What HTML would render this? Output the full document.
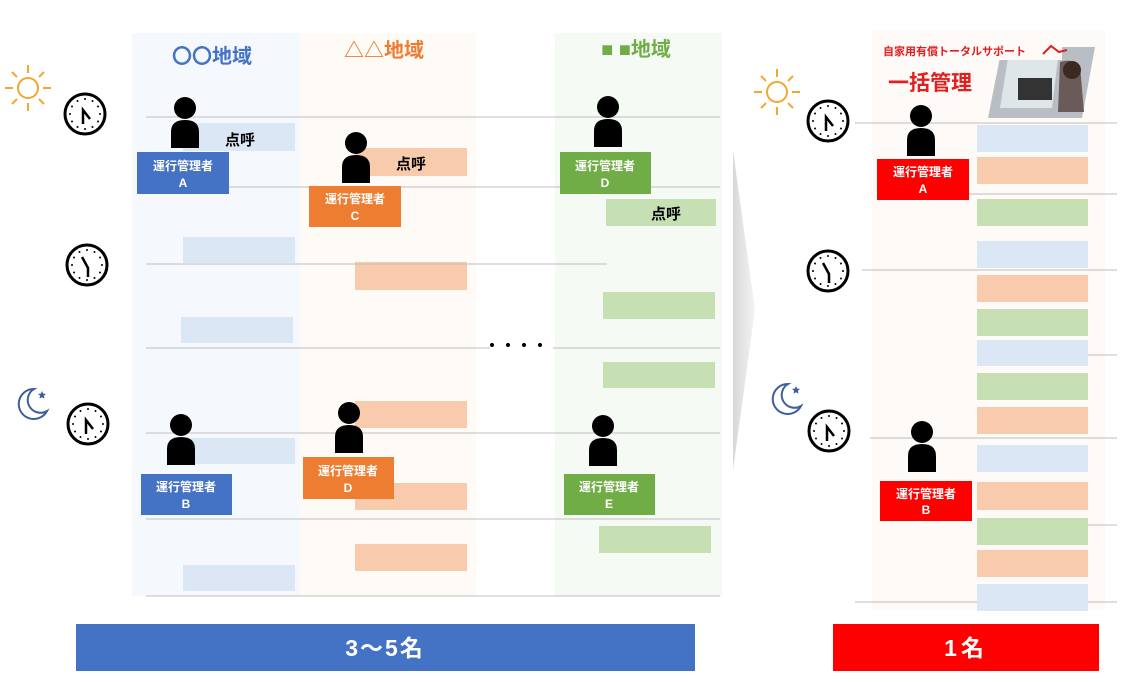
<!DOCTYPE html>
<html><head><meta charset="utf-8"><style>
html,body{margin:0;padding:0;background:#fff;}
svg{display:block;font-family:"Liberation Sans","Noto Sans CJK JP",sans-serif;}
</style></head><body>
<svg width="1133" height="686" viewBox="0 0 1133 686" xmlns="http://www.w3.org/2000/svg">
<defs>
<g id="clk"><circle r="20" fill="#fff" stroke="#000" stroke-width="3"/>
<g fill="#000"><circle cx="0" cy="-15" r="1"/><circle cx="7.5" cy="-13" r="1"/><circle cx="13" cy="-7.5" r="1"/><circle cx="15" cy="0" r="1"/><circle cx="13" cy="7.5" r="1"/><circle cx="7.5" cy="13" r="1"/><circle cx="0" cy="15" r="1"/><circle cx="-7.5" cy="13" r="1"/><circle cx="-13" cy="7.5" r="1"/><circle cx="-15" cy="0" r="1"/><circle cx="-13" cy="-7.5" r="1"/><circle cx="-7.5" cy="-13" r="1"/></g></g>
<g id="h1"><use href="#clk"/><path d="M-2 10 L-2 -4 L5 5" fill="none" stroke="#000" stroke-width="2.5"/></g>
<g id="h2"><use href="#clk"/><path d="M-5 -8 L1 3 L1 12" fill="none" stroke="#000" stroke-width="2.5"/></g>
<g id="sun" stroke="#f0a830" stroke-width="2" fill="none"><circle r="10"/><path d="M0 -23V-15M0 15V23M-23 0H-15M15 0H23M-16 -16L-11 -11M11 11L16 16M16 -16L11 -11M-11 11L-16 16"/></g>
<g id="moon"><path d="M4 -15 A15 15 0 1 0 17 7 A11 11 0 1 1 4 -15Z" fill="none" stroke="#3e5f9a" stroke-width="2"/><path d="M12 -13 l1.2 2.6 2.8 .3 -2.1 1.9 .6 2.8 -2.5 -1.4 -2.5 1.4 .6 -2.8 -2.1 -1.9 2.8 -.3Z" fill="#3e5f9a"/></g>
<g id="per"><circle cx="0" cy="-12" r="11" fill="#000"/><path d="M-14 28 V12 Q-14 0 0 0 Q14 0 14 12 V28Z" fill="#000"/></g>
<linearGradient id="ch" x1="0" x2="1"><stop offset="0" stop-color="#d8d8d8"/><stop offset="1" stop-color="#f4f4f4"/></linearGradient>
</defs>
<rect x="132" y="33" width="168" height="563" fill="#f5f9fd"/>
<rect x="300" y="33" width="176" height="563" fill="#fefaf6"/>
<rect x="555" y="33" width="167" height="563" fill="#f6faf4"/>
<rect x="872" y="30" width="233" height="580" fill="#fefaf7"/>
<text x="212" y="63" font-size="20" font-weight="bold" fill="#4472c4" text-anchor="middle">〇〇地域</text>
<text x="384" y="57" font-size="20" font-weight="bold" fill="#ed7d31" text-anchor="middle">△△地域</text>
<text x="636" y="56" font-size="20" font-weight="bold" fill="#70ad47" text-anchor="middle">■ ■地域</text>
<g fill="#dce7f5"><rect x="183" y="123" width="112" height="28"/><rect x="183" y="237" width="112" height="26"/><rect x="181" y="317" width="112" height="26"/><rect x="183" y="438" width="112" height="26"/><rect x="183" y="565" width="112" height="26"/></g>
<g fill="#f8cbad"><rect x="355" y="148" width="112" height="28"/><rect x="355" y="262" width="112" height="28"/><rect x="355" y="401" width="112" height="27"/><rect x="355" y="483" width="112" height="27"/><rect x="355" y="544" width="112" height="27"/></g>
<g fill="#c6e0b4"><rect x="606" y="199" width="110" height="27"/><rect x="603" y="292" width="112" height="27"/><rect x="603" y="362" width="112" height="26"/><rect x="599" y="526" width="112" height="27"/></g>
<g stroke="#bfbfbf" stroke-width="1">
<path d="M146 117H720M229 187H720M146 264H607M146 348H490M553 348H720M146 433H720M146 519H720M146 596H720"/>
<path d="M855 123H1117M950 194H1117M862 270H1117M980 355H1117M870 438H1117M980 525H1117M855 602H1117"/>
</g>
<text x="240" y="145" font-size="15" font-weight="bold" text-anchor="middle">点呼</text>
<text x="411" y="169" font-size="15" font-weight="bold" text-anchor="middle">点呼</text>
<text x="666" y="219" font-size="15" font-weight="bold" text-anchor="middle">点呼</text>
<g><rect x="977" y="125" width="111" height="27" fill="#dce7f5"/><rect x="977" y="157" width="111" height="27" fill="#f8cbad"/><rect x="977" y="199" width="111" height="27" fill="#c6e0b4"/><rect x="977" y="241" width="111" height="27" fill="#dce7f5"/><rect x="977" y="275" width="111" height="27" fill="#f8cbad"/><rect x="977" y="309" width="111" height="27" fill="#c6e0b4"/><rect x="977" y="340" width="111" height="26" fill="#dce7f5"/><rect x="977" y="373" width="111" height="27" fill="#c6e0b4"/><rect x="977" y="407" width="111" height="27" fill="#f8cbad"/><rect x="977" y="445" width="111" height="27" fill="#dce7f5"/><rect x="977" y="482" width="111" height="28" fill="#f8cbad"/><rect x="977" y="518" width="111" height="27" fill="#c6e0b4"/><rect x="977" y="550" width="111" height="27" fill="#f8cbad"/><rect x="977" y="584" width="111" height="27" fill="#dce7f5"/></g>
<use href="#per" x="185" y="120"/><use href="#per" x="356" y="155"/><use href="#per" x="608" y="119"/>
<use href="#per" x="181" y="437"/><use href="#per" x="349" y="425"/><use href="#per" x="603" y="438"/>
<use href="#per" x="921" y="128"/><use href="#per" x="922" y="444"/>
<g font-size="12" font-weight="bold" fill="#fff" text-anchor="middle">
<rect x="137" y="152" width="92" height="42" fill="#4472c4"/><text x="183" y="170">運行管理者</text><text x="183" y="187">A</text>
<rect x="309" y="186" width="92" height="41" fill="#ed7d31"/><text x="355" y="203">運行管理者</text><text x="355" y="220">C</text>
<rect x="560" y="152" width="91" height="42" fill="#70ad47"/><text x="605" y="170">運行管理者</text><text x="605" y="187">D</text>
<rect x="141" y="474" width="91" height="41" fill="#4472c4"/><text x="186" y="491">運行管理者</text><text x="186" y="508">B</text>
<rect x="303" y="457" width="91" height="42" fill="#ed7d31"/><text x="348" y="475">運行管理者</text><text x="348" y="492">D</text>
<rect x="564" y="474" width="91" height="41" fill="#70ad47"/><text x="609" y="491">運行管理者</text><text x="609" y="508">E</text>
<rect x="877" y="159" width="92" height="41" fill="#ff0000"/><text x="923" y="176">運行管理者</text><text x="923" y="193">A</text>
<rect x="880" y="481" width="92" height="40" fill="#ff0000"/><text x="926" y="498">運行管理者</text><text x="926" y="514">B</text>
</g>
<use href="#h1" x="85" y="114"/><use href="#h2" x="87" y="265"/><use href="#h1" x="88" y="424"/>
<use href="#h1" x="828" y="121"/><use href="#h2" x="828" y="271"/><use href="#h1" x="829" y="431"/>
<use href="#sun" x="28" y="88"/><use href="#sun" x="777" y="92"/>
<use href="#moon" x="30" y="404"/><use href="#moon" x="784" y="399"/>
<text x="516" y="351" font-size="16" font-weight="bold" text-anchor="middle">・・・・</text>
<polygon points="733,150 755,310 733,470" fill="url(#ch)"/>
<polygon points="1002,47 1095,47 1082,118 988,118" fill="#b8bec4"/>
<polygon points="1008,58 1058,58 1052,108 1000,108" fill="#dfe6ea"/>
<rect x="1018" y="78" width="34" height="22" fill="#333"/>
<path d="M1060 62 Q1072 58 1080 66 L1084 112 L1058 112Z" fill="#6a5a58"/>
<circle cx="1072" cy="70" r="9" fill="#3a2a22"/>
<rect x="880" y="40" width="182" height="20" fill="#fefaf7"/>
<text x="883" y="55" font-size="11" font-weight="bold" fill="#e02020">自家用有償トータルサポート</text>
<path d="M1043 54 l8 -8 l8 6 l8 -2" fill="none" stroke="#e02020" stroke-width="2"/>
<text x="888" y="90" font-size="21" font-weight="bold" fill="#e02020">一括管理</text>
<rect x="76" y="624" width="619" height="47" fill="#4472c4"/>
<text x="385" y="656" font-size="23" font-weight="bold" fill="#fff" text-anchor="middle" letter-spacing="2">3～5名</text>
<rect x="833" y="624" width="266" height="47" fill="#ff0000"/>
<text x="966" y="656" font-size="23" font-weight="bold" fill="#fff" text-anchor="middle" letter-spacing="4">1名</text>
</svg>
</body></html>
